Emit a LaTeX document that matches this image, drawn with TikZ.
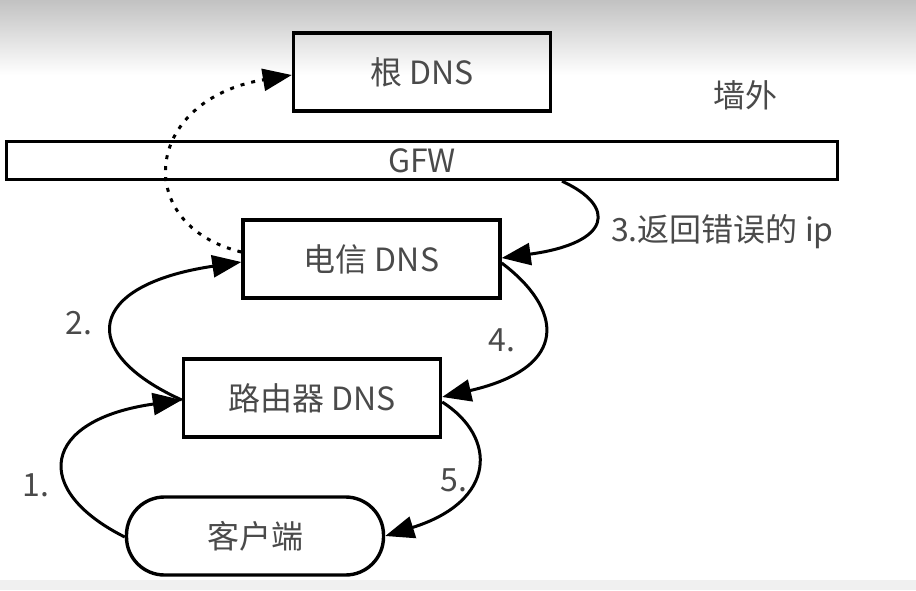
\documentclass[tikz,border=0pt]{standalone}
\usepackage{fontspec}
\setmainfont{Noto Sans CJK SC}
\usetikzlibrary{arrows.meta}
\definecolor{txt}{HTML}{4a4a4a}
\begin{document}
\begin{tikzpicture}[x=1pt,y=-1pt,>={Triangle[length=29pt,width=22pt]}]
\useasboundingbox (0,0) rectangle (916,590);
\shade [top color=black!24,bottom color=white] (0,0) rectangle (916,75);
\fill [black!6] (0,580) rectangle (916,590);
\begin{scope}
\tikzstyle{word} = [font=\fontsize{32}{38}\selectfont,text=txt]
\tikzstyle{server} = [rectangle,draw,minimum height=78pt,minimum width=257pt,line width=3.4pt,inner sep=0pt]

%wall
\node [word,rectangle,draw,minimum height=38pt,minimum width=831pt,line width=3.4pt,inner sep=0pt] (gfw) at (422,160.5) {GFW};
\node [word] (outside) at ([xshift=323pt,yshift=65.5pt]gfw.center) {墙外};

\node [server,word] (root) at ([yshift=88.5pt]gfw.center) {根 DNS};
\node [server,word] (telecom) at ([xshift=-50.5pt,yshift=-98.5pt]gfw.center) {电信 DNS};
\node [server,word] (router) at ([xshift=-59.5pt,yshift=-139pt]telecom.center) {路由器 DNS};
\node [server,word,rounded corners=38pt] (client) at ([xshift=-57pt,yshift=-138pt]router.center) {客户端};

%steps
\node [word] (s1) at ([xshift=-89pt,yshift=51pt]client.west) {1.};
\node [word] (s2) at ([xshift=-103pt,yshift=75pt]router.west) {2.};
\node [word,anchor=west] (s3) at ([xshift=106pt,yshift=27pt]telecom.east) {3.返回错误的 ip};
\node [word] (s4) at ([xshift=60pt,yshift=58pt]router.east) {4.};
\node [word] (s5) at ([xshift=69pt,yshift=56pt]client.east) {5.};

\draw [->,line width=3pt] ([yshift=-1pt]client.west) .. controls +(-94,-47) and +(-141,20) .. ([yshift=-2pt]router.west);
\draw [->,line width=3pt] ([yshift=-2pt]router.west) .. controls +(-106,-48) and +(-155,23) .. ([yshift=-3pt]telecom.west);
\draw [->,line width=3pt,dash pattern=on 4pt off 7pt] ([yshift=7pt]telecom.west) .. controls +(-110,-27) and +(-149,25) .. ([yshift=-3pt]root.west);
\draw [->,line width=3pt] ([xshift=140pt]gfw.south) .. controls +(55,25) and +(110,-15) .. ([yshift=1pt]telecom.east);
\draw [->,line width=3pt] ([yshift=-4pt]telecom.east) .. controls +(60,45) and +(130,-30) .. ([yshift=1pt]router.east);
\draw [->,line width=3pt] ([yshift=-4pt]router.east) .. controls +(55,35) and +(112,-35) .. (client.east);
\end{scope}
\end{tikzpicture}
\end{document}
